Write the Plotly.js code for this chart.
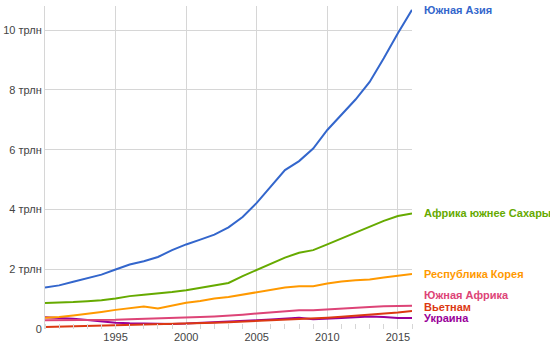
<!DOCTYPE html>
<html>
<head>
<meta charset="utf-8">
<script src="https://cdn.plot.ly/plotly-3.0.1.min.js"></script>
<style>html,body{margin:0;padding:0;background:#fff;}#chart{width:550px;height:351px;}</style>
</head>
<body>
<div id="chart"></div>
<script>
const years = [1990,1991,1992,1993,1994,1995,1996,1997,1998,1999,2000,2001,2002,2003,2004,2005,2006,2007,2008,2009,2010,2011,2012,2013,2014,2015,2016];

const southAsia = [1.39,1.46,1.58,1.69,1.82,1.99,2.16,2.27,2.41,2.64,2.83,2.99,3.16,3.40,3.75,4.22,4.76,5.32,5.62,6.04,6.66,7.16,7.68,8.27,9.06,9.90,10.68];
const subSaharan = [0.87,0.88,0.90,0.93,0.96,1.02,1.10,1.15,1.19,1.24,1.30,1.38,1.45,1.54,1.77,1.97,2.19,2.39,2.55,2.64,2.83,3.03,3.22,3.42,3.62,3.78,3.87];
const korea = [0.38,0.40,0.45,0.50,0.57,0.64,0.69,0.75,0.69,0.79,0.88,0.94,1.02,1.07,1.15,1.21,1.30,1.39,1.43,1.43,1.52,1.59,1.63,1.66,1.72,1.77,1.84];
const southAfrica = [0.29,0.29,0.29,0.30,0.30,0.31,0.33,0.34,0.35,0.36,0.38,0.40,0.42,0.44,0.48,0.52,0.56,0.60,0.63,0.63,0.66,0.70,0.72,0.74,0.76,0.77,0.78];
const vietnam = [0.07,0.08,0.09,0.10,0.11,0.12,0.13,0.14,0.15,0.16,0.18,0.19,0.21,0.23,0.25,0.27,0.29,0.31,0.33,0.34,0.38,0.41,0.44,0.47,0.51,0.55,0.60];
const ukraine = [0.39,0.37,0.34,0.30,0.25,0.21,0.19,0.18,0.17,0.17,0.18,0.20,0.21,0.24,0.27,0.29,0.32,0.36,0.38,0.33,0.34,0.37,0.39,0.42,0.40,0.37,0.37];

const seriesNames = ['Южная Азия','Африка южнее Сахары','Республика Корея','Южная Африка','Вьетнам','Украина'];
const seriesData = [southAsia, subSaharan, korea, southAfrica, vietnam, ukraine];
const colors = ['#3366cc','#66aa00','#ff9900','#dd4477','#dc3912','#990099'];
const labelShift = [0, 0, 0, 11, 4, 0];

const yTickVals = [0,2,4,6,8,10];
const yTickText = ['0','2 трлн','4 трлн','6 трлн','8 трлн','10 трлн'];
const xTickVals = [1990,1995,2000,2005,2010,2015];
const xTickText = ['','1995','2000','2005','2010','2015'];

const traces = seriesData.map((d,i)=>({
  x: years, y: d, type:'scatter', mode:'lines', name: seriesNames[i],
  line:{color:colors[i], width:2}, hoverinfo:'skip'
})).reverse();

const annotations = seriesData.map((d,i)=>({
  x: years[years.length-1], y: d[d.length-1], xref:'x', yref:'y',
  text: '<b>'+seriesNames[i]+'</b>', showarrow:false, xanchor:'left', yanchor:'middle',
  xshift: 10, yshift: labelShift[i],
  font:{family:'Liberation Sans, Arial, sans-serif', size:11, color:colors[i]}
}));

const layout = {
  width:550, height:351,
  margin:{l:45, r:138, t:6, b:22, pad:0},
  paper_bgcolor:'#fff', plot_bgcolor:'#fff',
  showlegend:false,
  font:{family:'Liberation Sans, Arial, sans-serif', size:11, color:'#444'},
  xaxis:{
    range:[1990,2016], tickvals:xTickVals, ticktext:xTickText,
    showgrid:true, gridcolor:'#d6d6d6', gridwidth:1, zeroline:false,
    ticks:'', showline:false, fixedrange:true,
    minor:{tickvals:years, ticks:'inside', ticklen:5, tickcolor:'#d6d6d6', showgrid:false},
    tickfont:{size:11, color:'#444'}
  },
  yaxis:{
    range:[0,10.81], tickvals:yTickVals, ticktext:yTickText,
    showgrid:true, gridcolor:'#d6d6d6', gridwidth:1, zeroline:false,
    ticks:'', ticklen:0, showline:true, linecolor:'#d6d6d6', linewidth:1,
    tickfont:{size:11, color:'#444'}, fixedrange:true
  },
  annotations: annotations
};

Plotly.newPlot('chart', traces, layout, {displayModeBar:false, staticPlot:true});
</script>
</body>
</html>
